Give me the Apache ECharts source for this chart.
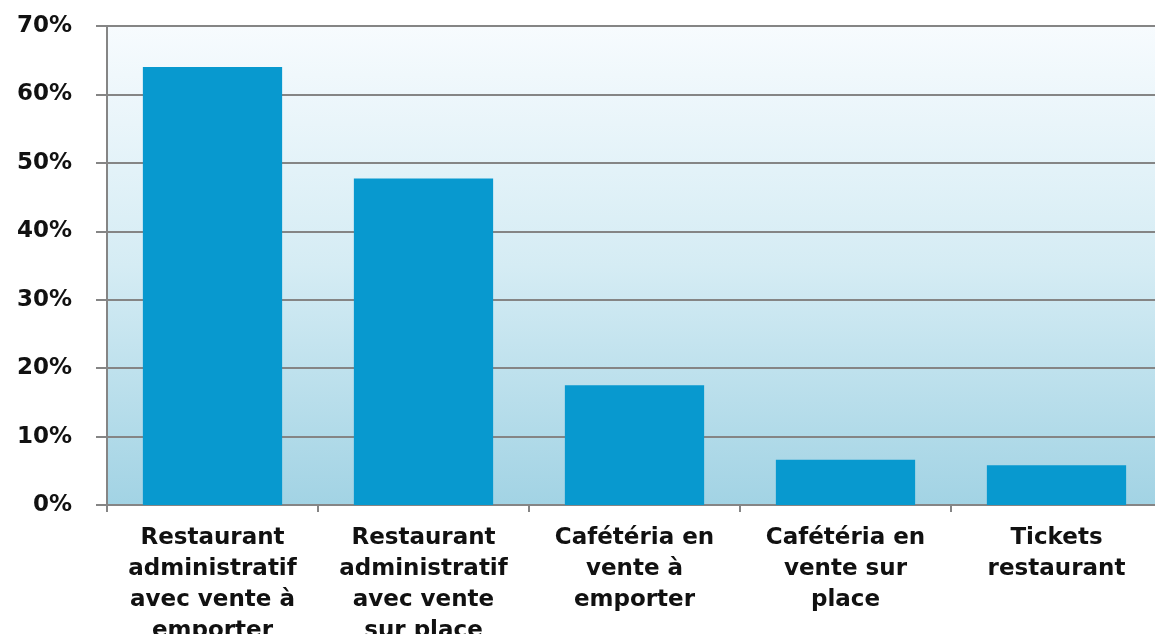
<!DOCTYPE html>
<html>
<head>
<meta charset="utf-8">
<script src="https://cdn.jsdelivr.net/npm/echarts@6/dist/echarts.min.js"></script>
<style>
  html, body { margin: 0; padding: 0; background: #fff; }
  #chart { width: 1155px; height: 634px; }
</style>
</head>
<body>
<div id="chart"></div>
<script>
// catégories et valeurs (%)
var categories = [
    'Restaurant\nadministratif\navec vente à\nemporter',
    'Restaurant\nadministratif\navec vente\nsur place',
    'Cafétéria en\nvente à\nemporter',
    'Cafétéria en\nvente sur\nplace',
    'Tickets\nrestaurant'
];
var values = [64, 47.7, 17.5, 6.6, 5.8];
var yTicks = [0, 10, 20, 30, 40, 50, 60, 70];

var chart = echarts.init(document.getElementById('chart'));
var option = {
    animation: false,
    grid: {
        left: 107, top: 26, right: -7, bottom: 129,
        outerBoundsMode: 'none',
        show: true,
        borderWidth: 0,
        backgroundColor: new echarts.graphic.LinearGradient(0, 0, 0, 1, [
            { offset: 0, color: '#f7fbfe' },
            { offset: 0.5, color: '#d5ecf4' },
            { offset: 1, color: '#a2d3e4' }
        ])
    },
    xAxis: {
        type: 'category',
        data: categories,
        axisLine: { lineStyle: { color: '#858585', width: 2 } },
        axisTick: { show: true, length: 7, lineStyle: { color: '#858585', width: 2 } },
        axisLabel: {
            interval: 0,
            margin: 18,
            color: '#111',
            fontFamily: 'DejaVu Sans',
            fontWeight: 'bold',
            fontSize: 23,
            lineHeight: 31
        }
    },
    yAxis: {
        type: 'value',
        min: yTicks[0],
        max: yTicks[yTicks.length - 1],
        interval: 10,
        axisLine: { show: true, lineStyle: { color: '#858585', width: 2 } },
        axisTick: { show: true, length: 11, lineStyle: { color: '#858585', width: 2 } },
        splitLine: { lineStyle: { color: '#858585', width: 2 } },
        axisLabel: {
            margin: 35,
            color: '#111',
            fontFamily: 'DejaVu Sans',
            fontWeight: 'bold',
            fontSize: 23,
            formatter: function (v) { return v + '%'; }
        }
    },
    series: [{
        type: 'bar',
        data: values,
        barCategoryGap: '34%',
        itemStyle: { color: '#0899cf' }
    }]
};
chart.setOption(option);
window.addEventListener('resize', function () { chart.resize(); });
</script>
</body>
</html>
